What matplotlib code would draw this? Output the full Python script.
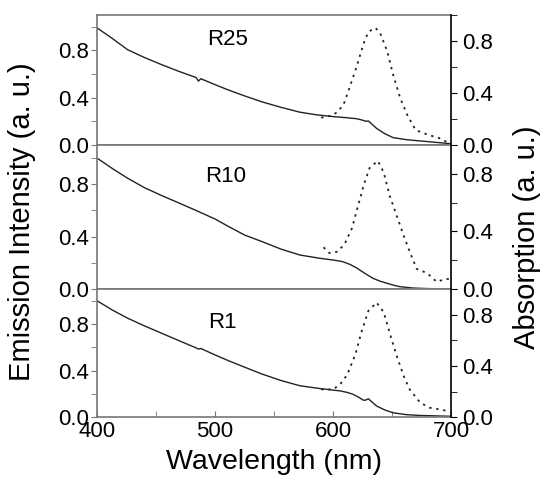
import matplotlib
matplotlib.use("Agg")
import matplotlib.pyplot as plt
from matplotlib.ticker import MultipleLocator

plt.rcParams['font.family'] = ['Liberation Sans', 'DejaVu Sans']

panel_names = ['R25', 'R10', 'R1']
label_pos = [(0.37, 0.81), (0.362, 0.778), (0.353, 0.74)]  # axes fraction

# emission (solid, left axis)
em_wl = [
    [400, 413, 426, 440, 455, 470, 484, 486, 488, 500, 511, 525, 540, 556, 572, 586, 600, 612, 620,
     625, 628, 630, 632, 637, 644, 651, 662, 674, 696, 700],
    [400, 413, 426, 440, 455, 470, 483, 500, 512, 525, 540, 556, 572, 589, 600, 608, 614, 620, 627,
     634, 640, 646, 652, 657, 668, 680, 700],
    [400, 413, 426, 440, 455, 470, 484, 486, 488, 500, 511, 525, 540, 556, 572, 589, 606, 612, 617,
     622, 626, 628, 630, 632, 637, 644, 651, 662, 674, 696, 700],
]
em_val = [
    [0.99, 0.9, 0.805, 0.74, 0.678, 0.62, 0.57, 0.54, 0.56, 0.51, 0.466, 0.415, 0.364, 0.318, 0.277,
     0.255, 0.24, 0.23, 0.222, 0.21, 0.2, 0.203, 0.185, 0.14, 0.095, 0.062, 0.045, 0.034, 0.014, 0.01],
    [1.0, 0.92, 0.846, 0.775, 0.713, 0.655, 0.604, 0.535, 0.475, 0.413, 0.362, 0.305, 0.26, 0.235,
     0.222, 0.21, 0.19, 0.162, 0.12, 0.082, 0.06, 0.044, 0.028, 0.018, 0.008, 0.004, 0.0],
    [1.0, 0.92, 0.85, 0.785, 0.72, 0.655, 0.595, 0.585, 0.59, 0.535, 0.487, 0.43, 0.37, 0.315, 0.27,
     0.246, 0.226, 0.213, 0.197, 0.17, 0.145, 0.148, 0.158, 0.14, 0.096, 0.062, 0.038, 0.022, 0.015,
     0.009, 0.008],
]

# absorption (dotted, right axis)
ab_wl = [
    [590, 596, 600, 604, 609, 614, 620, 626, 630, 636, 640, 646, 651, 657, 663, 670, 680, 691, 698, 700],
    [592, 597, 604, 610, 616, 621, 626, 631, 638, 643, 648, 654, 660, 665, 671, 680, 688, 695, 699],
    [590, 600, 606, 612, 619, 624, 630, 637, 643, 648, 654, 660, 665, 674, 682, 691, 698],
]
ab_val = [
    [0.21, 0.22, 0.23, 0.256, 0.31, 0.44, 0.60, 0.78, 0.87, 0.90, 0.86, 0.72, 0.54, 0.36, 0.23, 0.115, 0.08, 0.05, 0.015, 0.0],
    [0.29, 0.25, 0.26, 0.315, 0.42, 0.57, 0.72, 0.84, 0.89, 0.81, 0.65, 0.51, 0.37, 0.26, 0.14, 0.11, 0.05, 0.07, 0.07],
    [0.217, 0.217, 0.256, 0.33, 0.49, 0.66, 0.83, 0.895, 0.82, 0.66, 0.48, 0.32, 0.217, 0.113, 0.074, 0.06, 0.047],
]

fig = plt.figure(figsize=(5.42, 4.79), dpi=100)
gs = fig.add_gridspec(3, 1, height_ratios=[130, 144, 128], hspace=0,
                      left=0.179, right=0.832, top=0.969, bottom=0.129)

spine_col = '#777777'
for i in range(3):
    ax = fig.add_subplot(gs[i])
    ax.plot(em_wl[i], em_val[i], color='#222222', lw=1.0)
    ax.set_xlim(400, 700)
    ax.set_ylim(0, 1.1)
    ax.yaxis.set_major_locator(MultipleLocator(0.4))
    ax.yaxis.set_minor_locator(MultipleLocator(0.2))
    ax.tick_params(axis='y', which='both', direction='out', length=4, labelsize=16,
                   color=spine_col, labelcolor='black', pad=2)
    ax.xaxis.set_major_locator(MultipleLocator(100))
    ax.xaxis.set_minor_locator(MultipleLocator(50))
    ax.tick_params(axis='x', which='both', direction='in', length=4, labelsize=16, color=spine_col, pad=3)
    if i < 2:
        ax.tick_params(axis='x', which='both', bottom=False, labelbottom=False)
    for s in ['left', 'top', 'bottom']:
        ax.spines[s].set_color(spine_col)
        ax.spines[s].set_linewidth(1.2)
    ax.spines['right'].set_visible(False)
    ax.text(*label_pos[i], panel_names[i], transform=ax.transAxes, ha='center', va='center', fontsize=16)

    ax2 = ax.twinx()
    ax2.plot(ab_wl[i], ab_val[i], color='#222222', lw=1.3, linestyle=(0, (1.3, 2.6)))
    ax2.set_ylim(0, 1.0)
    ax2.yaxis.set_major_locator(MultipleLocator(0.4))
    ax2.yaxis.set_minor_locator(MultipleLocator(0.2))
    ax2.tick_params(axis='y', which='both', direction='out', length=4, labelsize=16, pad=4)
    for s in ['left', 'top', 'bottom']:
        ax2.spines[s].set_visible(False)
    ax2.spines['right'].set_linewidth(1.2)
    if i == 2:
        ax.set_xlabel('Wavelength (nm)', fontsize=20.5, labelpad=5)

fig.text(0.041, 0.538, 'Emission Intensity (a. u.)', rotation=90, ha='center', va='center', fontsize=21)
fig.text(0.972, 0.504, 'Absorption (a. u.)', rotation=90, ha='center', va='center', fontsize=21)

fig.savefig('out.png', dpi=100)
